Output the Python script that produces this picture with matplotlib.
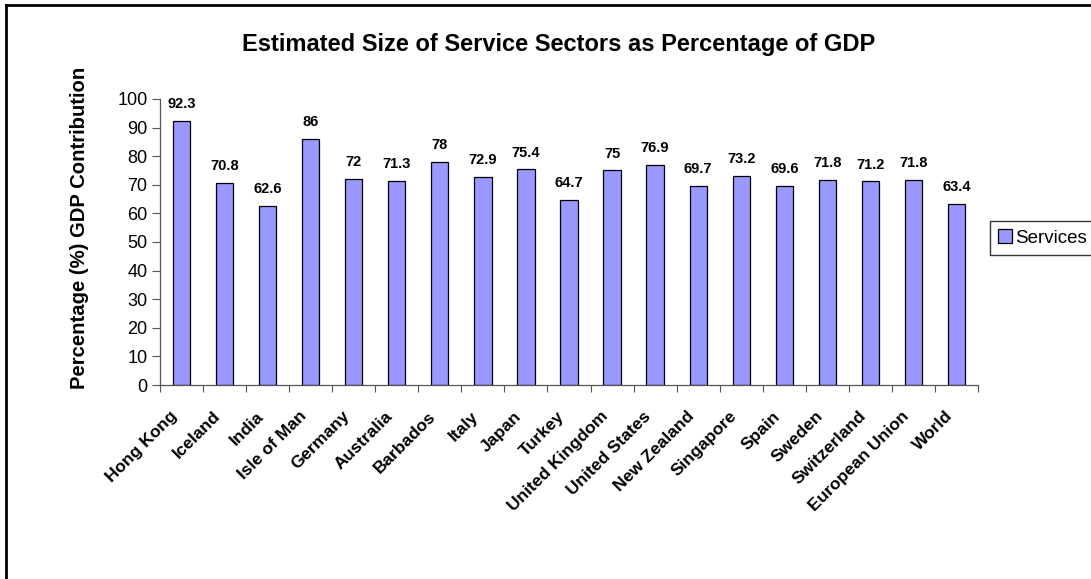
import matplotlib.pyplot as plt
from matplotlib.lines import Line2D
from matplotlib.transforms import ScaledTranslation
import numpy as np

plt.rcParams['font.family'] = ['Liberation Sans', 'DejaVu Sans']

# data
countries = ['Hong Kong', 'Iceland', 'India', 'Isle of Man', 'Germany', 'Australia',
             'Barbados', 'Italy', 'Japan', 'Turkey', 'United Kingdom', 'United States',
             'New Zealand', 'Singapore', 'Spain', 'Sweden', 'Switzerland',
             'European Union', 'World']
services = [92.3, 70.8, 62.6, 86, 72, 71.3, 78, 72.9, 75.4, 64.7, 75, 76.9,
            69.7, 73.2, 69.6, 71.8, 71.2, 71.8, 63.4]
yticks = list(range(0, 101, 10))

W, H = 1091, 579
fig = plt.figure(figsize=(W / 100, H / 100), dpi=100)

# axes position in pixels: left 160, right 978, top 99, bottom 385
ax = fig.add_axes([160 / W, 1 - 385 / H, (978 - 160) / W, (385 - 99) / H])

x = np.arange(len(countries))
bars = ax.bar(x, services, width=0.4, color='#9999FF', edgecolor='black',
              linewidth=0.9, label='Services')

for xi, v in zip(x, services):
    ax.text(xi, v + 3.4, f'{v:g}', ha='center', va='bottom',
            fontsize=10.5, fontweight='bold')

ax.set_xlim(-0.5, len(countries) - 0.5)
ax.set_ylim(0, 100)
ax.set_yticks(yticks)
ax.tick_params(axis='y', labelsize=13, length=6, direction='out', width=0.8,
               color='#555555', pad=3)
ax.set_xticks(np.arange(len(countries) + 1) - 0.5, minor=False)
ax.set_xticklabels([])
ax.set_xticks(x, minor=True)
ax.set_xticklabels(countries, minor=True, rotation=45, ha='right', rotation_mode='anchor',
                   fontsize=12.5, fontweight='bold')
ax.tick_params(axis='x', which='major', length=5, color='#555555', width=0.8)
ax.tick_params(axis='x', which='minor', length=0, pad=14)

# nudge the slanted labels a little left and down, as in the reference
shift = ScaledTranslation(-0.12, -0.04, fig.dpi_scale_trans)
for lab in ax.get_xticklabels(minor=True):
    lab.set_transform(lab.get_transform() + shift)

for s in ['top', 'right']:
    ax.spines[s].set_visible(False)
for s in ['left', 'bottom']:
    ax.spines[s].set_color('#555555')
    ax.spines[s].set_linewidth(0.9)

fig.text(80 / W, 1 - 228 / H, 'Percentage (%) GDP Contribution', rotation=90,
         ha='center', va='center', fontsize=14.6, fontweight='bold')

fig.text(559 / W, 1 - 44 / H, 'Estimated Size of Service Sectors as Percentage of GDP',
         ha='center', va='center', fontsize=17, fontweight='bold')

# legend (cut off at the right edge like the reference)
fig.legend(handles=[bars], labels=['Services'], loc='upper left',
           bbox_to_anchor=(990 / W, 1 - 221 / H), fontsize=13.5, frameon=True,
           fancybox=False, edgecolor='black', handlelength=0.7, handleheight=0.7,
           handletextpad=0.2, borderpad=0.45, borderaxespad=0)

# outer chart border (only left and top visible)
fig.add_artist(Line2D([6 / W, 6 / W], [0, 1 - 5 / H], color='black', linewidth=2,
                      transform=fig.transFigure))
fig.add_artist(Line2D([6 / W, 1], [1 - 5 / H, 1 - 5 / H], color='black', linewidth=2,
                      transform=fig.transFigure))

fig.savefig('out.png', dpi=100)
